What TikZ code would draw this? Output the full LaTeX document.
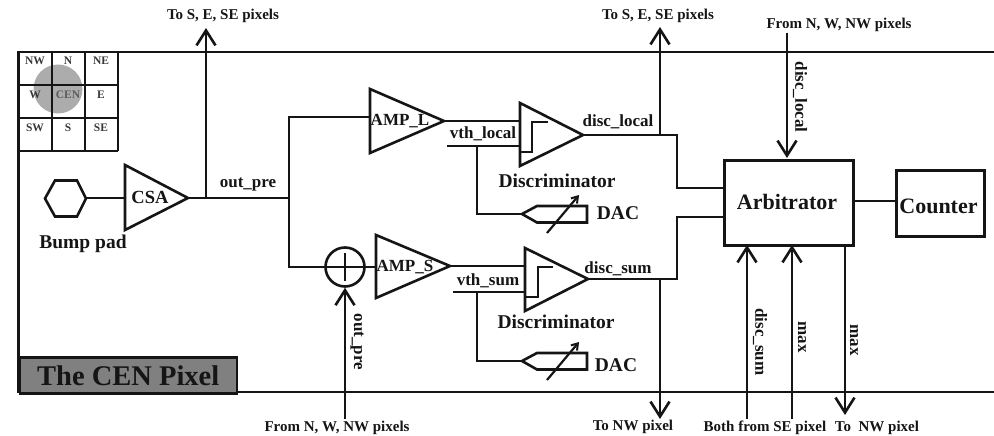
\documentclass[tikz,border=0pt]{standalone}
\usepackage{fontspec}
\setmainfont{Liberation Serif}
\usetikzlibrary{arrows.meta}
\definecolor{ink}{HTML}{151515}
\tikzset{
  x=1pt,y=-1pt,
  wire/.style={line width=2.6pt,draw=ink,line cap=butt,line join=miter},
  thin wire/.style={line width=2.1pt,draw=ink,line join=round},
  frame/.style={line width=2.5pt,draw=ink},
  sig/.style={wire,-{Straight Barb[length=15pt,width=19pt,line width=2.6pt]}},
  tune/.style={line width=2.2pt,draw=ink,-{Straight Barb[length=6pt,width=8pt,line width=2pt]}},
  lab/.style={font=\bfseries\fontsize{15}{17}\selectfont,text=ink,inner sep=0pt},
  sigl/.style={font=\bfseries\fontsize{17}{19}\selectfont,text=ink,inner sep=0pt},
  big/.style={font=\bfseries\fontsize{19.5}{21}\selectfont,text=ink,inner sep=0pt},
  cell/.style={font=\bfseries\fontsize{11.5}{13}\selectfont,text=ink!85,inner sep=0pt},
  block/.style={draw=ink,line width=2.6pt,fill=white,minimum width=0pt,inner sep=0pt,text=ink}
}
\begin{document}
\begin{tikzpicture}
\useasboundingbox (0,0) rectangle (994,436);
% pixel frame
\draw[frame] (994,52) -- (18.5,52) -- (18.5,392) -- (994,392);
% neighbourhood grid
\fill[gray!65] (58,89) circle (24.5);
\draw[thin wire] (18.5,85) -- (118,85) (18.5,118) -- (118,118) (18.5,151) -- (118,151);
\draw[thin wire] (52,52) -- (52,151) (85,52) -- (85,151) (118,52) -- (118,151);
\node[cell] (gnw) at (35,61) {NW};
\node[cell] (gn) at (68,61) {N};
\node[cell] (gne) at (101,61) {NE};
\node[cell] (gw) at (35,94.5) {W};
\node[cell,text=ink!70] (gc) at (68,95) {CEN};
\node[cell] (ge) at (101,95) {E};
\node[cell] (gsw) at (35,127.5) {SW};
\node[cell] (gs) at (68,128) {S};
\node[cell] (gse) at (101,127.5) {SE};
% name tag
\node[draw=ink,line width=2.5pt,fill=gray,inner sep=0pt,anchor=north west,minimum width=217pt,minimum height=36pt,font=\bfseries\fontsize{28.5}{30}\selectfont,text=ink] (tag) at (18.5,356) {The CEN Pixel};

% junction coordinates
\coordinate (padR) at (86,198);
\coordinate (csaIn) at (125,198);
\coordinate (csaOut) at (188,198);
\coordinate (tapA) at (206,198);
\coordinate (split) at (289,198);
\coordinate (toL) at (289,117);
\coordinate (ampLIn) at (370,117);
\coordinate (toS) at (289,267);
\coordinate (ampLOut) at (444,121);
\coordinate (dLIn) at (520,121);
\coordinate (dLOut) at (583,135);
\coordinate (tapB) at (660,135);
\coordinate (kneeA) at (677,135);
\coordinate (kneeB) at (677,188);
\coordinate (kneeC) at (677,217);
\coordinate (kneeD) at (677,279);
\coordinate (ampSOut) at (450,266);
\coordinate (dSIn) at (525,266);
\coordinate (dSOut) at (588,279);
\coordinate (tapC) at (660,279);
\coordinate (vLs) at (447,146);
\coordinate (vLe) at (520,146);
\coordinate (vLj) at (477,146);
\coordinate (vLk) at (477,214);
\coordinate (dacL) at (522,214);
\coordinate (vSs) at (453,292);
\coordinate (vSe) at (525,292);
\coordinate (vSj) at (477,292);
\coordinate (vSk) at (477,361);
\coordinate (dacS) at (522,361);
\coordinate (topA) at (206,28);
\coordinate (topB) at (660,27);
\coordinate (botA) at (660,419);
\coordinate (sumS) at (345,419);
\coordinate (arbN0) at (787,33);
\coordinate (sb0) at (747,419);
\coordinate (mb0) at (792,419);
\coordinate (mo1) at (845,415);

% blocks
\node[block,minimum width=129pt,minimum height=85pt,anchor=north west] (arb) at (723,159) {};
\node[big,font=\bfseries\fontsize{22}{24}\selectfont] (arbt) at (787,202) {Arbitrator};
\node[block,minimum width=88pt,minimum height=66pt,anchor=north west] (cnt) at (895,169) {};
\node[big,font=\bfseries\fontsize{22}{24}\selectfont] (cntt) at (938.5,206) {Counter};
\coordinate (arbN) at (787,158);
\coordinate (arbA) at (723,188);
\coordinate (arbB) at (723,217);
\coordinate (arbR) at (852,201);
\coordinate (cntL) at (895,201);
\coordinate (arbS1) at (747,245);
\coordinate (arbS2) at (792,245);
\coordinate (arbS3) at (845,244);

% bump pad and amplifiers
\draw[wire] (45,198.5) -- (55,180.5) -- (77,180.5) -- (86,198.5) -- (77,216.5) -- (55,216.5) -- cycle;
\draw[wire] (125,165) -- (188,198) -- (125,230) -- cycle;
\draw[wire] (370,89) -- (444,121) -- (370,153) -- cycle;
\draw[wire] (520,103) -- (583,135) -- (520,166) -- cycle;
\draw[wire] (376,235) -- (450,266) -- (376,298) -- cycle;
\draw[wire] (525,248) -- (588,279) -- (525,311) -- cycle;
% hysteresis marks
\draw[wire] (520,152) -- (532,152) -- (532,122) -- (548,122);
\draw[wire] (525,297) -- (538,297) -- (538,267) -- (553,267);
% DACs
\draw[wire] (dacL) -- (537,206) -- (587,206) -- (587,222.5) -- (537,222.5) -- cycle;
\draw[wire] (dacS) -- (537,353) -- (587,353) -- (587,369.5) -- (537,369.5) -- cycle;
\draw[tune] (547,233) -- (579,195);
\draw[tune] (547,380) -- (579,342);
% adder
\node[circle,draw=ink,line width=2.6pt,minimum size=39pt,inner sep=0pt] (sum) at (345,267) {};
\draw[wire] (345,253) -- (345,281);
\coordinate (ampSIn) at (376,267);

% connectors
\draw[wire] (padR) -- (csaIn);
\draw[wire] (csaOut) -- (split);
\draw[sig] (tapA) -- (topA);
\draw[wire] (ampLIn) -- (toL) -- (split) -- (toS) -- (345,267);
\draw[wire] (sum.center) -- (ampSIn);
\draw[wire] (ampLOut) -- (dLIn);
\draw[wire] (ampSOut) -- (dSIn);
\draw[wire] (dLOut) -- (kneeA) -- (kneeB) -- (arbA);
\draw[wire] (dSOut) -- (kneeD) -- (kneeC) -- (arbB);
\draw[sig] (tapB) -- (topB);
\draw[sig] (tapC) -- (botA);
\draw[wire] (vLs) -- (vLe);
\draw[wire] (vLj) -- (vLk) -- (dacL);
\draw[wire] (vSs) -- (vSe);
\draw[wire] (vSj) -- (vSk) -- (dacS);
\draw[sig] (sumS) -- (sum.south);
\draw[sig] (arbN0) -- (arbN);
\draw[sig] (sb0) -- (arbS1);
\draw[sig] (mb0) -- (arbS2);
\draw[sig] (arbS3) -- (mo1);
\draw[wire] (arbR) -- (cntL);

% labels
\node[lab] (l1) at (223,16) {To S, E, SE pixels};
\node[lab] (l2) at (658,16) {To S, E, SE pixels};
\node[lab] (l3) at (839,25) {From N, W, NW pixels};
\node[lab] (l4) at (337,428) {From N, W, NW pixels};
\node[lab] (l5) at (633,427) {To NW pixel};
\node[lab] (l6) at (765,428) {Both from SE pixel};
\node[lab] (l7) at (877,428) {To\ \ NW pixel};
\node[big,font=\bfseries\fontsize{18.5}{20}\selectfont] (csa) at (150,197) {CSA};
\node[big] (bump) at (83,244) {Bump pad};
\node[sigl] (op) at (248,185) {out\_pre};
\node[sigl] (al) at (400,121) {AMP\_L};
\node[sigl] (as) at (405,267) {AMP\_S};
\node[sigl] (vl) at (483,134) {vth\_local};
\node[sigl] (vs) at (488,281) {vth\_sum};
\node[sigl] (dl) at (618,122) {disc\_local};
\node[sigl] (ds) at (618,269) {disc\_sum};
\node[big] (d1) at (557,181) {Discriminator};
\node[big] (d2) at (556,322) {Discriminator};
\node[big] (dac1) at (618,213) {DAC};
\node[big] (dac2) at (616,365) {DAC};
\node[sigl,rotate=-90] (rop) at (357,342) {out\_pre};
\node[sigl,rotate=-90] (rdl) at (800,97) {disc\_local};
\node[sigl,rotate=-90] (rds) at (760,342) {disc\_sum};
\node[sigl,rotate=-90] (rm1) at (802,337) {max};
\node[sigl,rotate=-90] (rm2) at (854,340) {max};
\end{tikzpicture}
\end{document}
